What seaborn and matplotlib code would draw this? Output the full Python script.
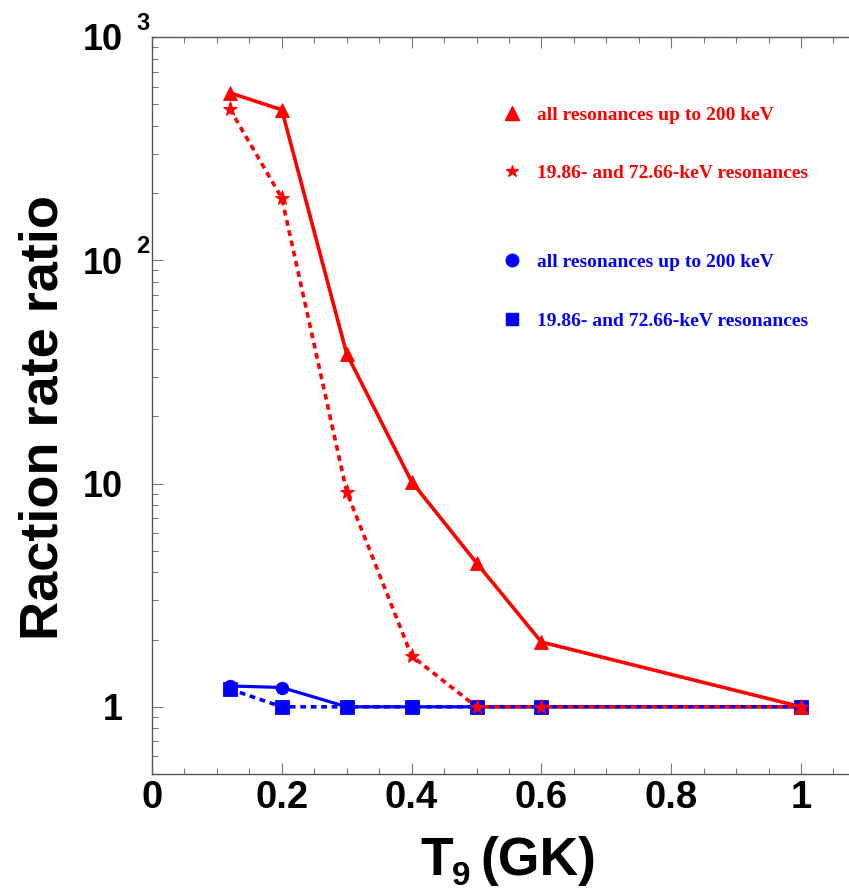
import numpy as np
import matplotlib
matplotlib.use("Agg")
import matplotlib.pyplot as plt
import seaborn as sns
from matplotlib.lines import Line2D
from matplotlib.ticker import LogLocator, MultipleLocator, NullFormatter

# Temperature grid (GK) and reaction-rate ratios
t9 = [0.12, 0.2, 0.3, 0.4, 0.5, 0.6, 1.0]
ratio_all_red = [562, 472, 38.1, 10.2, 4.41, 1.95, 1.0]
ratio_two_red = [476, 190, 9.18, 1.69, 1.0, 1.0, 1.0]
ratio_all_blue = [1.24, 1.22, 1.0, 1.0, 1.0, 1.0, 1.0]
ratio_two_blue = [1.20, 1.0, 1.0, 1.0, 1.0, 1.0, 1.0]

legend_labels = ["all resonances up to 200 keV", "19.86- and 72.66-keV resonances"]
x_ticks = [0, 0.2, 0.4, 0.6, 0.8, 1.0]
x_tick_labels = ["0", "0.2", "0.4", "0.6", "0.8", "1"]
y_ticks = [1, 10, 100, 1000]
y_tick_labels = ["1", "10", "10", "10"]
y_tick_exponents = ["", "", "2", "3"]

RED = "#ff0000"
BLUE = "#0000ff"

sns.set_style("ticks")
plt.rcParams["font.family"] = ["Liberation Sans", "DejaVu Sans"]
plt.rcParams["font.weight"] = "bold"
plt.rcParams["text.color"] = "black"
plt.rcParams["xtick.labelcolor"] = "black"
plt.rcParams["ytick.labelcolor"] = "black"

W, H = 849, 891
fig = plt.figure(figsize=(W / 100, H / 100), dpi=100)


def pt(v):
    """pixels -> points at 100 dpi"""
    return v * 72 / 100


ax = fig.add_axes([152 / W, 1 - 774 / H, 1 - 152 / W, (774 - 37) / H])

dotted = (0, (1.6, 1.3))
series = [
    (ratio_all_blue, BLUE, "o", "-", 9, 2.3),
    (ratio_two_blue, BLUE, "s", dotted, 9.5, 2.6),
    (ratio_all_red, RED, "^", "-", 10.5, 2.6),
    (ratio_two_red, RED, "*", dotted, 11, 2.6),
]
for y, c, m, ls, ms, lw in series:
    sns.lineplot(x=t9, y=y, color=c, marker=m, markersize=ms, linestyle=ls,
                 linewidth=lw, markeredgewidth=0.6, markeredgecolor=c, ax=ax)

ax.set_yscale("log")
ax.set_ylim(0.5, 1000)
ax.set_xlim(0, (849 - 152) / 649)

ax.set_xticks(x_ticks, x_tick_labels)
ax.xaxis.set_minor_locator(MultipleLocator(0.05))
ax.set_yticks(y_ticks, y_tick_labels)
ax.yaxis.set_minor_locator(LogLocator(base=10, subs=np.arange(2, 10)))
ax.yaxis.set_minor_formatter(NullFormatter())

ax.tick_params(axis="both", which="both", direction="in", top=True, right=False,
               color="#777777", width=0.8)
ax.tick_params(axis="both", which="major", length=pt(11))
ax.tick_params(axis="both", which="minor", length=pt(6))
ax.tick_params(axis="x", labelsize=27.5, pad=pt(6))
ax.tick_params(axis="y", labelsize=26, pad=pt(29))

for e, v in zip(y_tick_exponents, y_ticks):
    if e:
        ax.annotate(e, xy=(0, v), xycoords=("axes fraction", "data"),
                    xytext=(pt(-16), pt(7)), textcoords="offset points",
                    fontsize=17, fontweight="bold", ha="left", va="baseline",
                    annotation_clip=False)

ax.spines["right"].set_visible(False)
for s in ("left", "bottom", "top"):
    ax.spines[s].set_color("#555555")
    ax.spines[s].set_linewidth(1.0)

# axis titles
fig.text(58 / W, 1 - 418 / H, "Raction rate ratio", rotation=90,
         rotation_mode="anchor", ha="center", va="baseline",
         fontsize=39, fontweight="bold")
fig.text(420 / W, 1 - 875 / H, "T", fontsize=38.5, fontweight="bold",
         ha="left", va="baseline")
fig.text(452 / W, 1 - 885 / H, "9", fontsize=24, fontweight="bold",
         ha="left", va="baseline")
fig.text(480 / W, 1 - 875 / H, "(GK)", fontsize=38.5, fontweight="bold",
         ha="left", va="baseline")

# legends
leg_prop = {"family": "Liberation Serif", "weight": "bold", "size": 14}
leg_kw = dict(loc="center left", bbox_transform=fig.transFigure, frameon=False,
              prop=leg_prop, handlelength=1.0, handletextpad=0.79,
              labelspacing=2.1, borderpad=0, borderaxespad=0)
red_handles = [Line2D([], [], color=RED, marker="^", ls="none", markersize=10),
               Line2D([], [], color=RED, marker="*", ls="none", markersize=9)]
leg1 = ax.legend(red_handles, legend_labels, bbox_to_anchor=(502 / W, 1 - 144 / H),
                 labelcolor=[RED, RED], **leg_kw)
ax.add_artist(leg1)
blue_handles = [Line2D([], [], color=BLUE, marker="o", ls="none", markersize=9),
                Line2D([], [], color=BLUE, marker="s", ls="none", markersize=9)]
ax.legend(blue_handles, legend_labels, bbox_to_anchor=(502 / W, 1 - 291.5 / H),
          labelcolor=[BLUE, BLUE], **leg_kw)

fig.savefig("out.png", dpi=100)
